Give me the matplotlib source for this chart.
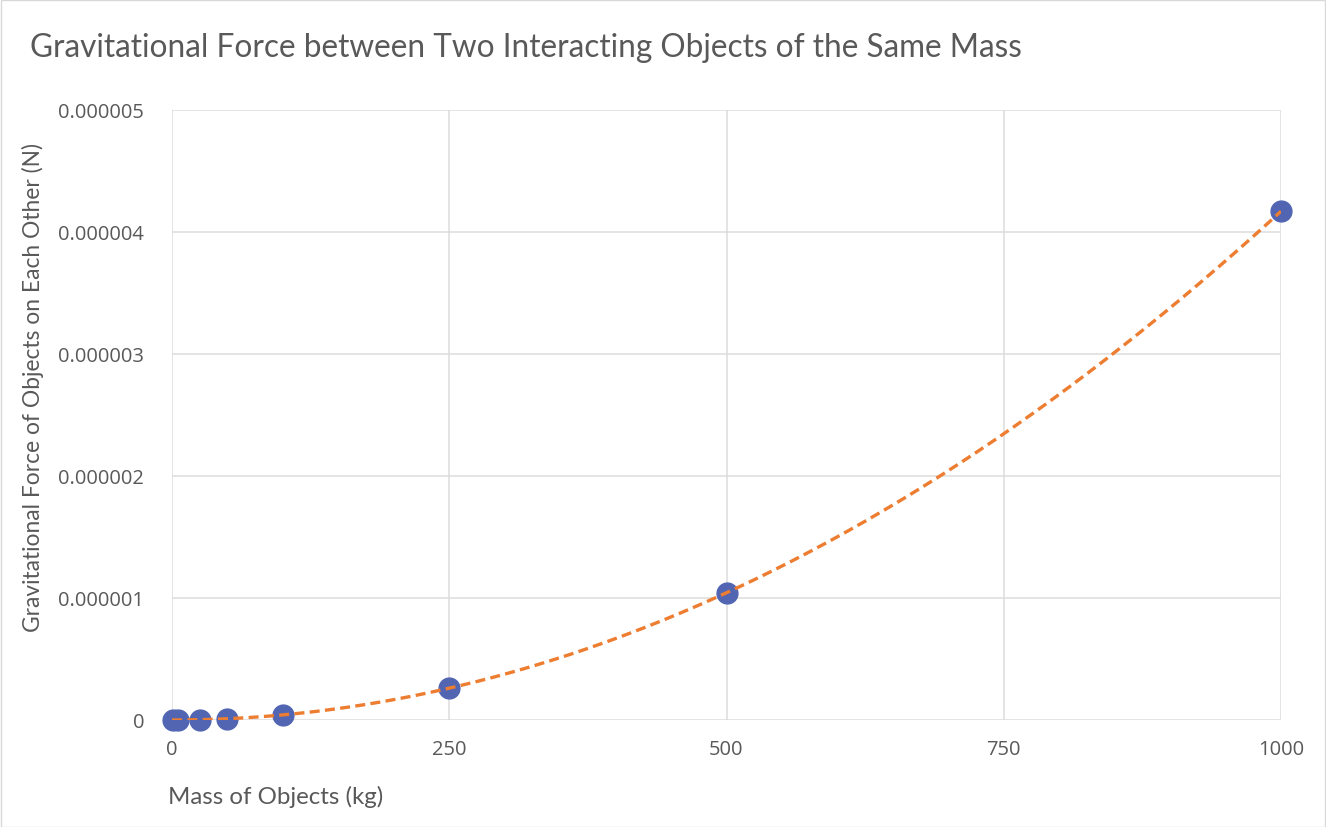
import numpy as np
import matplotlib
matplotlib.use("Agg")
import matplotlib.pyplot as plt
from matplotlib.patches import Rectangle

mass_kg = [1, 5, 25, 50, 100, 250, 500, 1000]
force_n = [4.17e-12, 1.04e-10, 2.61e-9, 1.04e-8, 4.17e-8, 2.61e-7, 1.043e-6, 4.17e-6]
x_ticks = [0, 250, 500, 750, 1000]
y_ticks = [0, 1e-6, 2e-6, 3e-6, 4e-6, 5e-6]
y_tick_labels = ["0", "0.000001", "0.000002", "0.000003", "0.000004", "0.000005"]

W, H = 1326, 828
fig = plt.figure(figsize=(W / 100, H / 100), dpi=100)
fig.patches.append(Rectangle((0.5 / W, 0.5 / H), 1 - 1.5 / W, 1 - 1.5 / H, transform=fig.transFigure,
                             fill=False, edgecolor="#d9d9d9", linewidth=1))

ax = fig.add_axes([172 / W, 1 - 721 / H, (1281 - 172) / W, (721 - 111) / H])
ax.set_xlim(0, 1000)
ax.set_ylim(0, 5e-6)
ax.set_xticks(x_ticks)
ax.set_xticklabels([str(t) for t in x_ticks])
ax.set_yticks(y_ticks)
ax.set_yticklabels(y_tick_labels)
for s in ax.spines.values():
    s.set_visible(False)
ax.grid(True, color="#dcdcdc", linewidth=1.1)
ax.set_axisbelow(True)
ax.tick_params(length=0, labelsize=14.5, labelcolor="#595959")
ax.tick_params(axis="y", pad=20)
ax.tick_params(axis="x", pad=14)
for lab in ax.get_xticklabels() + ax.get_yticklabels():
    lab.set_family("Open Sans")

ax.plot(mass_kg, force_n, "o", color="#5265b2", markersize=15, zorder=3, clip_on=False)

coef = np.polyfit(mass_kg, force_n, 2)
xs = np.linspace(0, 1000, 300)
ax.plot(xs, np.polyval(coef, xs), color="#ed7d31", linewidth=2.4, linestyle=(0, (3, 1.6)), zorder=4)

fig.text(30 / W, 1 - 48 / H, "Gravitational Force between Two Interacting Objects of the Same Mass",
         fontsize=22.7, color="#595959", family="Lato", va="center", ha="left")
fig.text(168 / W, 1 - 797 / H, "Mass of Objects (kg)", fontsize=17.3, color="#595959", family="Lato",
         va="center", ha="left")
fig.text(33 / W, 1 - 388 / H, "Gravitational Force of Objects on Each Other (N)", fontsize=16.4,
         color="#595959", family="Lato", va="center", ha="center", rotation=90)

fig.savefig("out.png", dpi=100)
